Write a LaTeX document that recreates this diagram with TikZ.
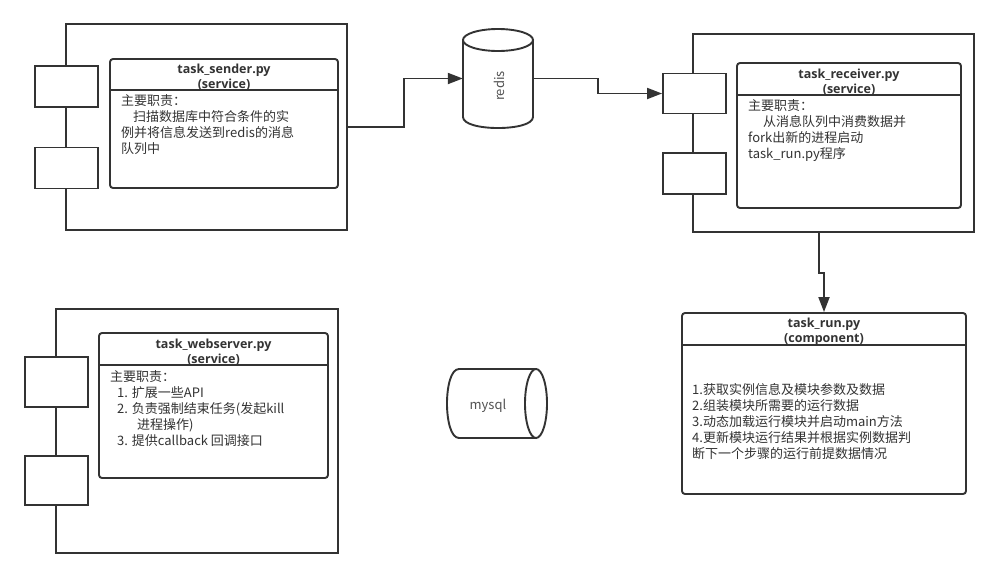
\documentclass[tikz,border=0pt]{standalone}
\usepackage{fontspec}
\setmainfont{Noto Sans CJK SC}
\newfontfamily\titlefont{Open Sans}
\usetikzlibrary{arrows.meta,calc}
\definecolor{lc}{HTML}{333333}
\definecolor{tc}{HTML}{333333}
\tikzset{
  ln/.style={draw=lc, line width=1.9pt},
  outerbox/.style={ln, rectangle, inner sep=0pt, fill=white},
  portbox/.style={ln, rectangle, inner sep=0pt, fill=white, minimum width=63pt},
  innerbox/.style={ln, rectangle, inner sep=0pt, fill=white, rounded corners=3pt},
  ttl/.style={inner sep=0pt, align=center, text=tc, font=\titlefont\bfseries\fontsize{12.5}{15}\selectfont},
  body/.style={inner sep=0pt, align=left, anchor=north west, text=tc, font=\fontsize{13}{16}\selectfont},
  arr/.style={ln, -{Triangle[length=15pt,width=11pt]}, line join=miter},
}
\begin{document}
\begin{tikzpicture}[x=1pt,y=-1pt]
\useasboundingbox (0,0) rectangle (999,579);

% ---------- task_sender ----------
\node[outerbox, minimum width=281pt, minimum height=206pt] (sout) at (206.5,127) {};
\node[portbox, minimum height=41pt] (sp1) at (66.5,86.5) {};
\node[portbox, minimum height=41pt] (sp2) at (66.5,168) {};
\node[innerbox, minimum width=228pt, minimum height=129pt] (sin) at (224,123.5) {};
\draw[ln] ([yshift=-32pt]sin.north west) -- ([yshift=-32pt]sin.north east);
\node[ttl] (stitle) at (224,77.5) {task\_sender.py\\(service)};
\node[body] (sbody) at (121,94) {主要职责：\\
\hspace*{12pt}扫描数据库中符合条件的实\\
例并将信息发送到redis的消息\\
队列中};

% ---------- redis ----------
\node[rectangle, inner sep=0pt, minimum width=70pt, minimum height=99pt] (redis) at (498,78.5) {};
\draw[ln, fill=white] (463,40) -- (463,117) .. controls (463,131.7) and (533,131.7) .. (533,117) -- (533,40);
\draw[ln] (498,40) ellipse [x radius=35, y radius=11];
\node[inner sep=0pt, rotate=90, text=tc!85!white, font=\fontsize{13}{16}\selectfont] (redislbl) at (499,86) {redis};

% ---------- task_receiver ----------
\node[outerbox, minimum width=281pt, minimum height=198pt] (rout) at (833.5,133) {};
\node[portbox, minimum height=40pt] (rp1) at (694.5,93.5) {};
\node[portbox, minimum height=41pt] (rp2) at (694.5,173.5) {};
\node[innerbox, minimum width=224pt, minimum height=145pt] (rin) at (849,135.5) {};
\draw[ln] ([yshift=-33pt]rin.north west) -- ([yshift=-33pt]rin.north east);
\node[ttl] (rtitle) at (849,82.5) {task\_receiver.py\\(service)};
\node[body] (rbody) at (748,99) {主要职责：\\
\hspace*{15pt}从消息队列中消费数据并\\
fork出新的进程启动\\
task\_run.py程序};

% ---------- task_webserver ----------
\node[outerbox, minimum width=282pt, minimum height=244pt] (wout) at (197,431) {};
\node[portbox, minimum height=50pt] (wp1) at (56.5,382) {};
\node[portbox, minimum height=49pt] (wp2) at (56.5,480.5) {};
\node[innerbox, minimum width=229pt, minimum height=145pt] (win) at (213.5,405.5) {};
\draw[ln] ([yshift=-33pt]win.north west) -- ([yshift=-33pt]win.north east);
\node[ttl] (wtitle) at (213.5,352) {task\_webserver.py\\(service)};
\node[body] (wbody) at (110,370) {主要职责：\\
\hspace*{7pt}1. 扩展一些API\\
\hspace*{7pt}2. 负责强制结束任务(发起kill\\
\hspace*{27pt}进程操作)\\
\hspace*{7pt}3. 提供callback 回调接口};

% ---------- mysql ----------
\node[rectangle, inner sep=0pt, minimum width=100pt, minimum height=69pt] (mysql) at (489,403.5) {};
\draw[ln, fill=white] (536,369) -- (459,369) .. controls (443,369) and (443,438) .. (459,438) -- (536,438);
\draw[ln, fill=white] (536,403.5) ellipse [x radius=11, y radius=34.5];
\node[inner sep=0pt, text=tc!85!white, font=\fontsize{13}{16}\selectfont] (mysqllbl) at (488,406) {mysql};

% ---------- task_run ----------
\node[innerbox, minimum width=284pt, minimum height=181pt] (trun) at (824,403.5) {};
\draw[ln] ([yshift=-33pt]trun.north west) -- ([yshift=-33pt]trun.north east);
\node[ttl] (ttitle) at (824,332) {task\_run.py\\(component)};
\node[body] (tbody) at (692,383) {1.获取实例信息及模块参数及数据\\
2.组装模块所需要的运行数据\\
3.动态加载运行模块并启动main方法\\
4.更新模块运行结果并根据实例数据判\\
断下一个步骤的运行前提数据情况};

% ---------- connectors ----------
\coordinate (k1) at (404,0);
\coordinate (k2) at (598,0);
\coordinate (j1) at (819,273);
\draw[arr] (sout.east) -| (k1 |- redis.west) -- (redis.west);
\draw[arr] (redis.east) -| (k2 |- rp1.west) -- (rp1.west);
\draw[arr] (rout.south -| j1) -- (j1) -| (trun.north);
\end{tikzpicture}
\end{document}
